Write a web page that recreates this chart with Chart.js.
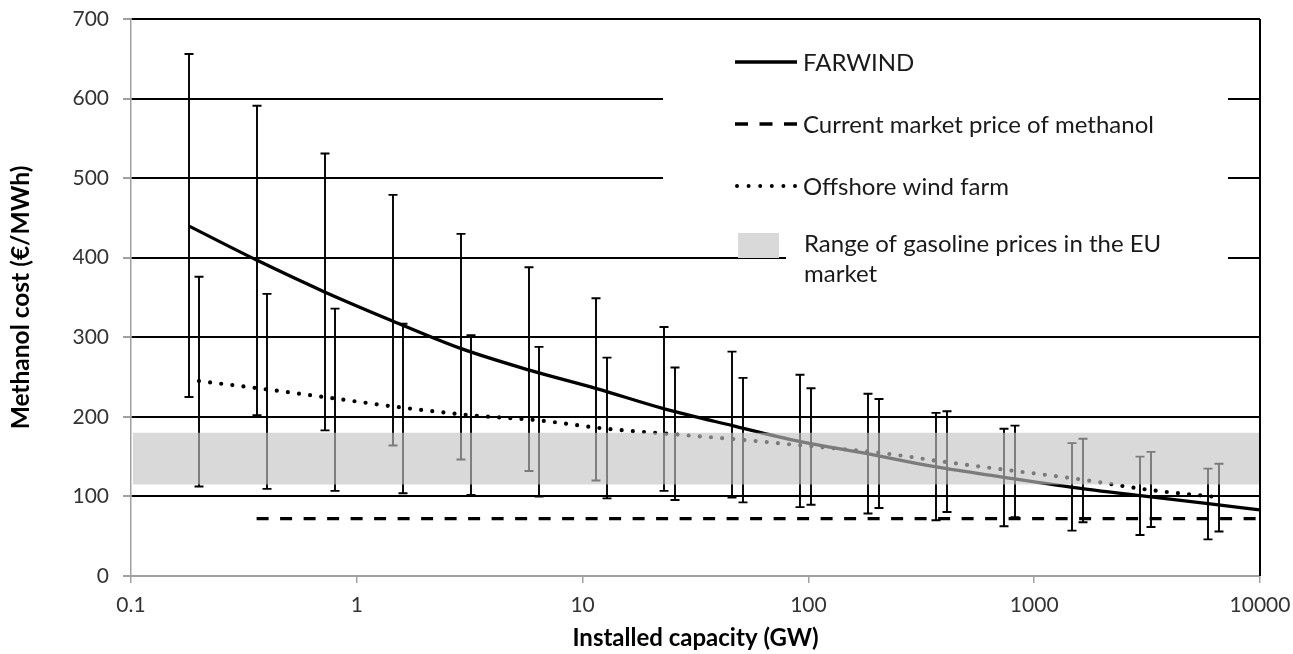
<!DOCTYPE html>
<html><head><meta charset="utf-8">
<script src="https://cdn.jsdelivr.net/npm/chart.js@4.4.1/dist/chart.umd.min.js"></script>
<style>html,body{margin:0;padding:0;background:#fff}#wrap{width:1293px;height:654px;position:relative}</style>
</head><body><div id="wrap"><canvas id="c" width="1293" height="654"></canvas></div>
<script>
// ---- data ----
const xTickValues = [0.1, 1, 10, 100, 1000, 10000];
const xTickLabels = ['0.1', '1', '10', '100', '1000', '10000'];
const yTickValues = [0, 100, 200, 300, 400, 500, 600, 700];

const farwindX = [0.18, 0.36, 0.72, 1.44, 2.88, 5.76, 11.52, 23.04, 46.08, 92.16, 184.32, 368.64, 737.28, 1474.56, 2949.12, 5898.24];
const farwindHigh = [656, 591, 531, 479, 430, 388, 349, 313, 282, 253, 229, 205, 185, 167, 150, 135];
const farwindLow = [225, 202, 183, 164, 146.5, 132, 120, 107, 98.5, 86.5, 78.5, 70, 62.5, 57, 51.5, 46];
const farwindCurveX = [0.18, 0.36, 0.72, 1.44, 2.88, 5.76, 11.52, 23.04, 46.08, 92.16, 184.32, 368.64, 737.28, 1474.56, 2949.12, 5898.24, 10000];
const farwindCurveY = [440, 397, 357, 320.5, 286, 259, 235.5, 210, 189, 169, 153.5, 137, 124, 111.5, 101, 91, 83];

const offshoreX = [0.2, 0.4, 0.8, 1.6, 3.2, 6.4, 12.8, 25.6, 51.2, 102.4, 204.8, 409.6, 819.2, 1638.4, 3276.8, 6553.6];
const offshoreY = [245, 234.5, 223, 211.5, 202, 195.5, 185, 178, 171, 163, 155, 143, 132, 121, 108, 99];
const offshoreHigh = [376, 354.5, 336, 317, 302.5, 288, 274.5, 262, 249, 236, 222.5, 207, 189, 172.5, 156, 141];
const offshoreLow = [112.5, 109.5, 107, 104, 102, 100, 97.5, 95.5, 92.5, 89.5, 85.5, 80.5, 74, 67.5, 61.5, 56];

const marketX = [0.36, 10000];
const marketY = [72, 72];

const gasolineRange = [115, 180];

const legendLabels = ['FARWIND', 'Current market price of methanol', 'Offshore wind farm', 'Range of gasoline prices in the EU', 'market'];

// ---- helpers ----
const pts = (xs, ys) => xs.map((v, i) => ({x: v, y: ys[i]}));
const FONT = 'Lato, "Open Sans", sans-serif';

const overlayPlugin = {
  id: 'overlay',
  beforeDatasetsDraw(chart) {
    const ctx = chart.ctx;
    ctx.save();
    ctx.fillStyle = '#fff';
    ctx.fillRect(663, 28, 565, 210);
    ctx.fillRect(786, 240, 442, 30);
    ctx.restore();
  },
  afterDatasetsDraw(chart) {
    const {ctx, chartArea, scales: {x, y}} = chart;
    ctx.save();
    ctx.strokeStyle = '#000';
    ctx.lineWidth = 1.9;
    const draw = (xs, lo, hi) => {
      xs.forEach((v, i) => {
        const px = Math.round(x.getPixelForValue(v));
        const p1 = y.getPixelForValue(lo[i]);
        const p2 = y.getPixelForValue(hi[i]);
        ctx.beginPath();
        ctx.moveTo(px, p1); ctx.lineTo(px, p2);
        ctx.moveTo(px - 4.5, p1); ctx.lineTo(px + 4.5, p1);
        ctx.moveTo(px - 4.5, p2); ctx.lineTo(px + 4.5, p2);
        ctx.stroke();
      });
    };
    draw(farwindX, farwindLow, farwindHigh);
    draw(offshoreX, offshoreLow, offshoreHigh);
    // gasoline band
    const top = y.getPixelForValue(gasolineRange[1]);
    const bot = y.getPixelForValue(gasolineRange[0]);
    ctx.fillStyle = 'rgba(195,195,195,0.63)';
    ctx.fillRect(chartArea.left + 2, top, chartArea.right - chartArea.left - 2, bot - top);
    // right border
    ctx.beginPath();
    ctx.lineWidth = 2;
    ctx.strokeStyle = '#000';
    ctx.moveTo(chartArea.right, chartArea.top);
    ctx.lineTo(chartArea.right, chartArea.bottom);
    ctx.stroke();
    ctx.restore();
  },
  afterDraw(chart) {
    const ctx = chart.ctx;
    ctx.save();
    ctx.strokeStyle = '#000';
    // FARWIND sample
    ctx.lineWidth = 3.3;
    ctx.beginPath(); ctx.moveTo(735, 62); ctx.lineTo(797, 62); ctx.stroke();
    // market sample
    ctx.setLineDash([13, 11.5]);
    ctx.beginPath(); ctx.moveTo(735, 124); ctx.lineTo(797, 124); ctx.stroke();
    // offshore sample
    ctx.setLineDash([0, 11.6]);
    ctx.lineCap = 'round';
    ctx.lineWidth = 4;
    ctx.beginPath(); ctx.moveTo(737, 186); ctx.lineTo(797, 186); ctx.stroke();
    ctx.setLineDash([]);
    // gasoline patch
    ctx.fillStyle = '#d9d9d9';
    ctx.fillRect(738, 233, 41, 25);
    // text
    ctx.fillStyle = '#1a1a1a';
    ctx.font = '24px ' + FONT;
    ctx.textBaseline = 'middle';
    ctx.textAlign = 'left';
    ctx.fillText(legendLabels[0], 803, 63);
    ctx.fillText(legendLabels[1], 803, 125);
    ctx.fillText(legendLabels[2], 803, 187);
    ctx.fillText(legendLabels[3], 804, 244);
    ctx.fillText(legendLabels[4], 804, 274);
    ctx.restore();
  }
};

new Chart(document.getElementById('c'), {
  type: 'scatter',
  data: {
    datasets: [
      {
        label: legendLabels[0],
        data: pts(farwindCurveX, farwindCurveY),
        showLine: true, borderColor: '#000', borderWidth: 3.3,
        pointRadius: 0, cubicInterpolationMode: 'monotone', fill: false
      },
      {
        label: legendLabels[2],
        data: pts(offshoreX, offshoreY),
        showLine: true, borderColor: '#000', borderWidth: 4.2,
        borderDash: [0, 11.2], borderCapStyle: 'round',
        pointRadius: 0, cubicInterpolationMode: 'monotone', fill: false
      },
      {
        label: legendLabels[1],
        data: pts(marketX, marketY),
        showLine: true, borderColor: '#000', borderWidth: 3.2,
        borderDash: [12, 11.5], pointRadius: 0, fill: false
      }
    ]
  },
  options: {
    responsive: false,
    animation: false,
    devicePixelRatio: 1,
    layout: {padding: 0},
    plugins: {legend: {display: false}, tooltip: {enabled: false}},
    scales: {
      x: {
        type: 'logarithmic', min: 0.1, max: 10000,
        afterBuildTicks: s => { s.ticks = xTickValues.map(v => ({value: v})); },
        afterFit: s => { s.height = 78; s.paddingRight = 33; s.paddingLeft = 0; },
        ticks: {
          autoSkip: false, maxRotation: 0, padding: 10,
          color: '#333', font: {family: FONT, size: 21},
          callback: (v) => { const i = xTickValues.indexOf(v); return i >= 0 ? xTickLabels[i] : ''; }
        },
        grid: {drawOnChartArea: false, drawTicks: true, tickLength: 7, color: '#a0a0a0', lineWidth: 1.5},
        border: {color: '#a0a0a0', width: 2},
        title: {display: true, text: 'Installed capacity (GW)', color: '#000',
          font: {family: FONT, size: 24, weight: 'bold'}, padding: {top: 0, bottom: 1.5}}
      },
      y: {
        type: 'linear', min: 0, max: 700,
        afterBuildTicks: s => { s.ticks = yTickValues.map(v => ({value: v})); },
        afterFit: s => { s.width = 131; s.paddingTop = 19; s.paddingBottom = 0; },
        ticks: {padding: 14, color: '#333', font: {family: FONT, size: 21}},
        grid: {
          drawTicks: true, tickLength: 8,
          color: c => (c.tick && c.tick.value === 0) ? 'rgba(0,0,0,0)' : '#000',
          tickColor: '#a0a0a0', lineWidth: 2
        },
        border: {color: '#a0a0a0', width: 1.5},
        title: {display: true, text: 'Methanol cost (€/MWh)', color: '#000',
          font: {family: FONT, size: 24.5, weight: 'bold'}, padding: {top: 6, bottom: 0}}
      }
    }
  },
  plugins: [overlayPlugin]
});
</script>
</body></html>
